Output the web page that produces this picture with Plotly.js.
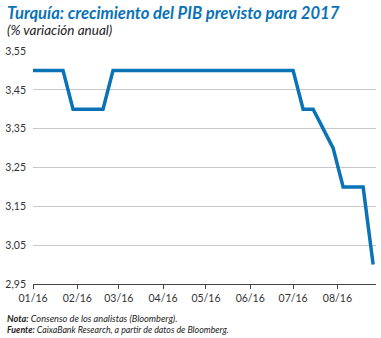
<!DOCTYPE html>
<html>
<head>
<meta charset="utf-8">
<script src="https://cdn.plot.ly/plotly-3.0.1.min.js"></script>
<style>html,body{margin:0;padding:0;background:#fff;}#chart{width:381px;height:338px;}</style>
</head>
<body>
<div id="chart"></div>
<script>
const dates = ["2016-01-01","2016-01-08","2016-01-15","2016-01-22","2016-01-29","2016-02-05","2016-02-12","2016-02-19","2016-02-26","2016-03-04","2016-03-11","2016-03-18","2016-03-25","2016-04-01","2016-04-08","2016-04-15","2016-04-22","2016-04-29","2016-05-06","2016-05-13","2016-05-20","2016-05-27","2016-06-03","2016-06-10","2016-06-17","2016-06-24","2016-07-01","2016-07-08","2016-07-15","2016-07-22","2016-07-29","2016-08-05","2016-08-12","2016-08-19","2016-08-26"];
const pib = [3.5,3.5,3.5,3.5,3.4,3.4,3.4,3.4,3.5,3.5,3.5,3.5,3.5,3.5,3.5,3.5,3.5,3.5,3.5,3.5,3.5,3.5,3.5,3.5,3.5,3.5,3.5,3.4,3.4,3.35,3.3,3.2,3.2,3.2,3.0];
const tickVals = ["2016-01-01","2016-02-01","2016-03-01","2016-04-01","2016-05-01","2016-06-01","2016-07-01","2016-08-01"];
const tickText = ["01/16","02/16","03/16","04/16","05/16","06/16","07/16","08/16"];
const yTicks = [2.95,3.05,3.15,3.25,3.35,3.45,3.55];

const font = "Lato, 'Open Sans', sans-serif";
const trace = {x: dates, y: pib, type: "scatter", mode: "lines",
  line: {color: "#0a73b7", width: 3.5}, hoverinfo: "skip"};
const layout = {
  width: 381, height: 338,
  margin: {l: 33, r: 5, t: 51, b: 54},
  paper_bgcolor: "#fff", plot_bgcolor: "#fff",
  separators: ",.",
  showlegend: false,
  font: {family: font, size: 10, color: "#333"},
  xaxis: {type: "date", range: ["2016-01-01", "2016-08-28"],
    tickvals: tickVals, ticktext: tickText, ticks: "outside", ticklen: 4,
    tickcolor: "#444", showline: true, linecolor: "#444", linewidth: 1,
    showgrid: false, zeroline: false, tickfont: {family: font, size: 10.5, color: "#333"}},
  yaxis: {range: [2.95, 3.55], tickvals: yTicks, tickformat: ".2f",
    showgrid: true, gridcolor: "#c8c8c8", gridwidth: 1, zeroline: false,
    showline: false, ticks: "", ticklabelstandoff: 6,
    tickfont: {family: font, size: 10.5, color: "#333"}},
  annotations: [
    {xref: "paper", yref: "paper", x: -0.082, y: 1.163, xanchor: "left", yanchor: "middle",
     showarrow: false, text: "<b><i>Turquía: crecimiento del PIB previsto para 2017</i></b>",
     font: {family: font, size: 16.6, color: "#0a73b7"}},
    {xref: "paper", yref: "paper", x: -0.082, y: 1.09, xanchor: "left", yanchor: "middle",
     showarrow: false, text: "<i>(% variación anual)</i>",
     font: {family: font, size: 13.5, color: "#222"}},
    {xref: "paper", yref: "paper", x: -0.082, y: -0.146, xanchor: "left", yanchor: "middle",
     showarrow: false, text: "<b><i>Nota:</i></b><i> Consenso de los analistas (Bloomberg).</i>",
     font: {family: font, size: 9.2, color: "#222"}},
    {xref: "paper", yref: "paper", x: -0.082, y: -0.197, xanchor: "left", yanchor: "middle",
     showarrow: false, text: "<b><i>Fuente:</i></b><i> CaixaBank Research, a partir de datos de Bloomberg.</i>",
     font: {family: font, size: 8.8, color: "#222"}}
  ]
};
Plotly.newPlot("chart", [trace], layout, {staticPlot: true, displayModeBar: false});
</script>
</body>
</html>
